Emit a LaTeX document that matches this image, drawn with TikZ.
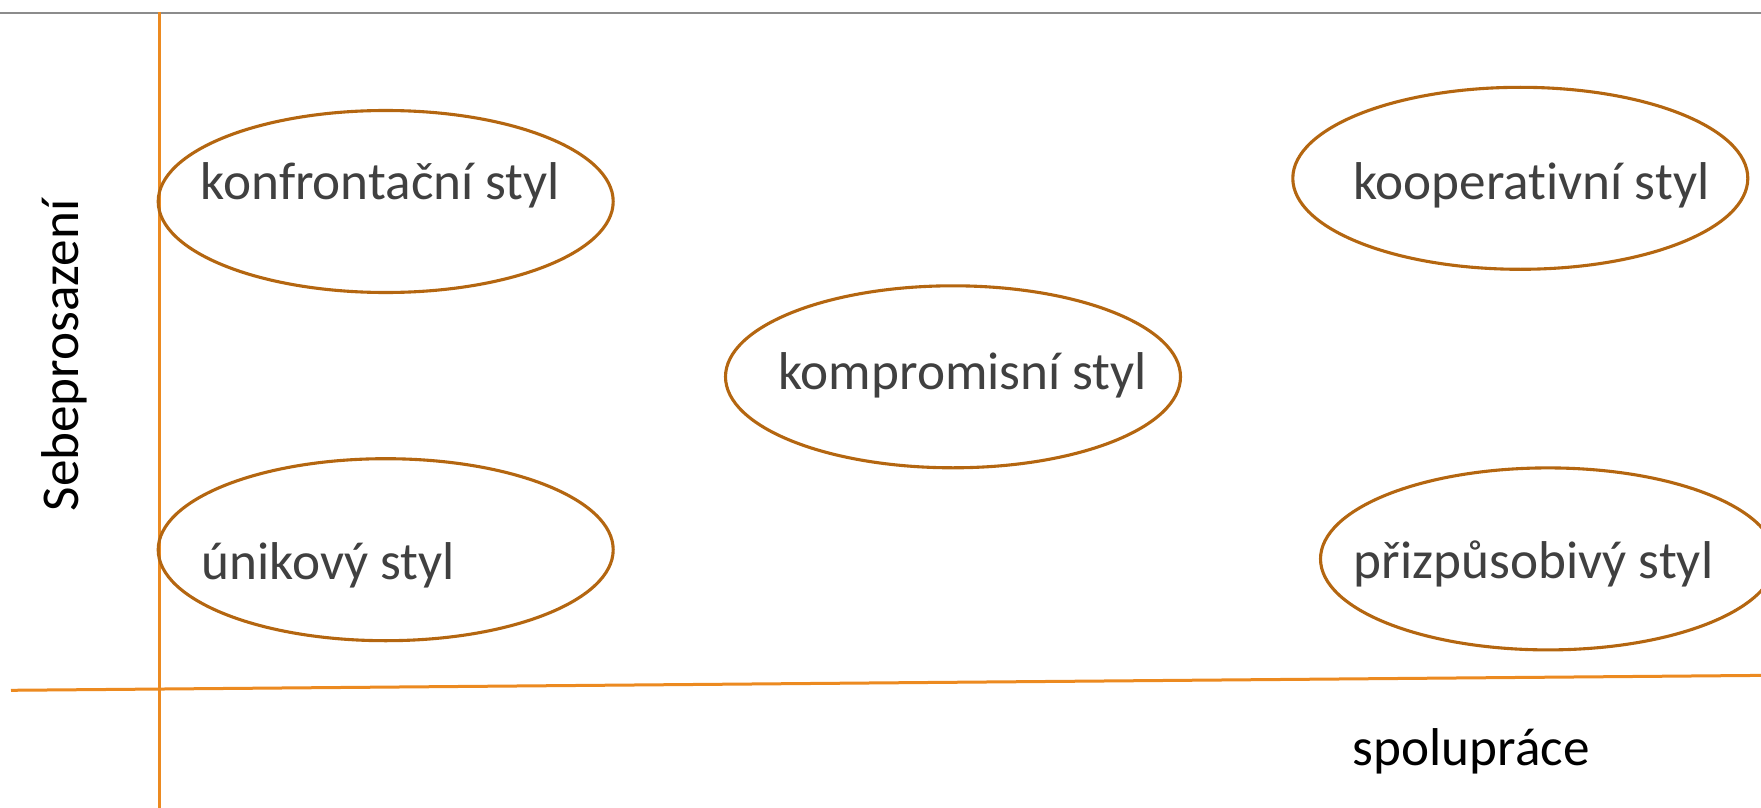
\documentclass[tikz,border=0pt]{standalone}
\usepackage{fontspec}
\setmainfont{Carlito}[Ligatures={NoCommon}]
\usetikzlibrary{shapes.geometric}
\definecolor{ellcol}{RGB}{180,102,16}
\definecolor{axiscol}{RGB}{236,138,32}
\definecolor{txtcol}{RGB}{64,64,64}
\definecolor{topcol}{RGB}{140,140,140}
\tikzset{
  stylell/.style={ellipse, draw=ellcol, line width=1.55pt, minimum width=227.5pt, minimum height=91pt, inner sep=0pt},
  styletxt/.style={anchor=base west, inner sep=0pt, text=txtcol, font=\fontsize{26.6}{32}\selectfont},
  axislabel/.style={inner sep=0pt, text=black, font=\fontsize{26.6}{32}\selectfont},
  axisline/.style={draw=axiscol, line width=1.5pt}
}
\begin{document}
\begin{tikzpicture}[x=0.5pt,y=-0.5pt]
\clip (0,0) rectangle (1761,808);
\fill[white] (0,0) rectangle (1761,808);
% frame line at top
\coordinate (tl) at (0,13.5);
\coordinate (tr) at (1761,13.5);
\draw[topcol, line width=1pt] (tl) -- (tr);
% axes
\coordinate (vtop) at (159.5,12);
\coordinate (vbot) at (159.5,808);
\coordinate (hl) at (11,690.3);
\coordinate (hr) at (1761,675.4);
\draw[axisline] (vtop) -- (vbot);
\draw[axisline] (hl) -- (hr);
% ellipses
\node[stylell] (e1) at (385.7,201.5) {};
\node[stylell] (e2) at (1520.3,178.3) {};
\node[stylell] (e3) at (953,376.8) {};
\node[stylell] (e4) at (385.7,549.7) {};
\node[stylell] (e5) at (1548,558.9) {};
% texts
\node[styletxt] (t1) at (200.5,199.3) {konfrontační styl};
\node[styletxt] (t2) at (1353,199.3) {kooperativní styl};
\node[styletxt] (t3) at (778,389) {kompromisní styl};
\node[styletxt] (t4) at (201.5,579) {únikový styl};
\node[styletxt] (t5) at (1353.5,578.3) {přizpůsobivý styl};
% axis labels
\node[axislabel, anchor=base, rotate=90] (ylab) at (78,355.5) {Sebeprosazení};
\node[axislabel, anchor=base west] (xlab) at (1352.5,765.7) {spolupráce};
\end{tikzpicture}
\end{document}
